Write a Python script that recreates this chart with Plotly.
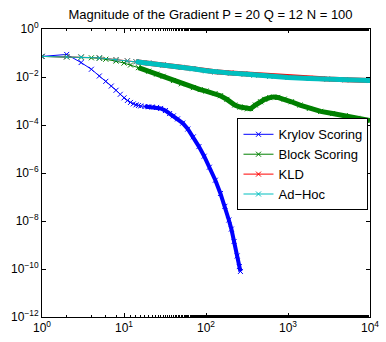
import plotly.graph_objects as go

# Gradient norm per iteration for each method
krylov_iter = [1, 2, 3, 4, 5, 6, 7, 8, 9, 10, 11, 12, 13, 14, 15, 16, 18, 20, 22, 25,
               28, 32, 36, 40, 45, 52, 60, 70, 82, 95, 110, 130, 150, 170, 190, 204,
               220, 240, 255, 263]
krylov_grad = [7.2e-2, 8.7e-2, 4.0e-2, 2.1e-2, 1.1e-2, 6.6e-3, 4.2e-3, 2.8e-3, 1.9e-3,
               1.35e-3, 1.05e-3, 8.7e-4, 7.6e-4, 6.9e-4, 6.5e-4, 6.2e-4, 5.9e-4, 5.75e-4,
               5.6e-4, 5.4e-4, 4.9e-4, 4.0e-4, 3.0e-4, 2.4e-4, 1.8e-4, 1.2e-4, 6.8e-5,
               3.2e-5, 1.26e-5, 5.0e-6, 1.74e-6, 5.0e-7, 1.4e-7, 4.1e-8, 1.1e-8, 4.6e-9,
               1.4e-9, 3.5e-10, 1.26e-10, 7.9e-11]

block_iter = [1, 2, 3, 4, 5, 6, 8, 10, 12, 15, 20, 25, 30, 40, 50, 70, 85, 100, 129,
              150, 180, 224, 260, 294, 320, 350, 400, 463, 520, 600, 668, 750, 900,
              1100, 1400, 1820, 2500, 3500, 5000, 7000, 10000]
block_grad = [7.2e-2, 6.9e-2, 6.6e-2, 6.3e-2, 6.0e-2, 5.5e-2, 4.6e-2, 3.8e-2, 3.16e-2,
              2.45e-2, 1.74e-2, 1.32e-2, 1.07e-2, 7.1e-3, 5.2e-3, 3.6e-3, 3.0e-3, 2.6e-3,
              2.04e-3, 1.66e-3, 1.17e-3, 6.8e-4, 5.6e-4, 5.1e-4, 4.7e-4, 4.8e-4, 6.8e-4,
              9.3e-4, 1.17e-3, 1.38e-3, 1.48e-3, 1.41e-3, 1.2e-3, 9.3e-4, 6.8e-4, 4.9e-4,
              3.7e-4, 3.0e-4, 2.45e-4, 1.9e-4, 1.55e-4]

kld_iter = [1, 2, 3, 5, 8, 11, 14, 20, 30, 50, 69, 100, 129, 200, 294, 386, 600, 1000,
            1820, 3000, 5000, 10000]
kld_grad = [7.2e-2, 6.95e-2, 6.85e-2, 6.35e-2, 5.3e-2, 4.75e-2, 4.35e-2, 3.85e-2, 3.2e-2,
            2.53e-2, 2.23e-2, 1.84e-2, 1.64e-2, 1.47e-2, 1.34e-2, 1.22e-2, 1.08e-2, 9.6e-3,
            8.8e-3, 8.2e-3, 7.7e-3, 7.2e-3]

adhoc_iter = [1, 2, 3, 5, 8, 11, 14, 20, 30, 50, 69, 100, 129, 200, 294, 386, 600, 1000,
              1820, 3000, 5000, 10000]
adhoc_grad = [7.2e-2, 6.9e-2, 6.8e-2, 6.3e-2, 5.25e-2, 4.7e-2, 4.3e-2, 3.8e-2, 3.16e-2,
              2.5e-2, 2.2e-2, 1.82e-2, 1.62e-2, 1.45e-2, 1.32e-2, 1.2e-2, 1.07e-2, 9.5e-3,
              8.7e-3, 8.1e-3, 7.6e-3, 7.1e-3]

x_ticks = [1, 10, 100, 1000, 10000]
x_labels = ["10<sup>0</sup>", "10<sup>1</sup>", "10<sup>2</sup>", "10<sup>3</sup>",
            "10<sup>4</sup>"]
y_ticks = [1, 1e-2, 1e-4, 1e-6, 1e-8, 1e-10, 1e-12]
y_labels = ["10<sup>0</sup>", "10<sup>\u22122</sup>", "10<sup>\u22124</sup>",
            "10<sup>\u22126</sup>", "10<sup>\u22128</sup>", "10<sup>\u221210</sup>",
            "10<sup>\u221212</sup>"]

series = [
    ("Krylov Scoring", "#0000ff", krylov_iter, krylov_grad, 18, 4.0),
    ("Block Scoring", "#008000", block_iter, block_grad, 14, 5.0),
    ("KLD", "#ff0000", kld_iter, kld_grad, 14, 5.0),
    ("Ad\u2212Hoc", "#00bfbf", adhoc_iter, adhoc_grad, 14, 5.0),
]

fig = go.Figure()
for name, color, it, g, dense_from, band in series:
    # where the iterations crowd together the markers merge into a solid band
    sel = [i for i, n in enumerate(it) if n >= dense_from]
    fig.add_trace(go.Scatter(
        x=[it[i] for i in sel], y=[g[i] for i in sel], mode="lines",
        line=dict(color=color, width=band), showlegend=False, hoverinfo="skip"))
    fig.add_trace(go.Scatter(
        x=it, y=g, mode="lines+markers", name=name,
        line=dict(color=color, width=1),
        marker=dict(symbol="x-thin", size=5, line=dict(color=color, width=1))))

font = "Liberation Sans, Arial, Helvetica, sans-serif"
fig.update_layout(
    width=386, height=342,
    margin=dict(l=42, r=7, t=29, b=19),
    paper_bgcolor="white", plot_bgcolor="white",
    font=dict(family=font, size=12, color="black"),
    title=dict(text="Magnitude of the Gradient P = 20 Q = 12 N = 100",
               x=(42 + 379) / 2 / 386, xanchor="center",
               y=1 - 14 / 342, yanchor="middle", yref="container",
               font=dict(family=font, size=13, color="black")),
    showlegend=True,
    legend=dict(x=0.596, xanchor="left", y=0.53, yanchor="middle",
                bgcolor="white", bordercolor="black", borderwidth=1,
                font=dict(family=font, size=13, color="black"),
                tracegroupgap=0),
)
fig.update_xaxes(
    type="log", range=[0, 4], showgrid=False, zeroline=False,
    showline=True, linecolor="black", linewidth=1, mirror="allticks",
    ticks="inside", ticklen=4, tickcolor="black", ticklabeloverflow="allow",
    tickvals=x_ticks, ticktext=x_labels, tickfont=dict(size=12),
    minor=dict(ticks="inside", ticklen=2, tickcolor="black", showgrid=False),
)
fig.update_yaxes(
    type="log", range=[-12, 0], showgrid=False, zeroline=False,
    showline=True, linecolor="black", linewidth=1, mirror="allticks",
    ticks="inside", ticklen=4, tickcolor="black",
    tickvals=y_ticks, ticktext=y_labels, tickfont=dict(size=12),
)

fig.write_html("out.html")
